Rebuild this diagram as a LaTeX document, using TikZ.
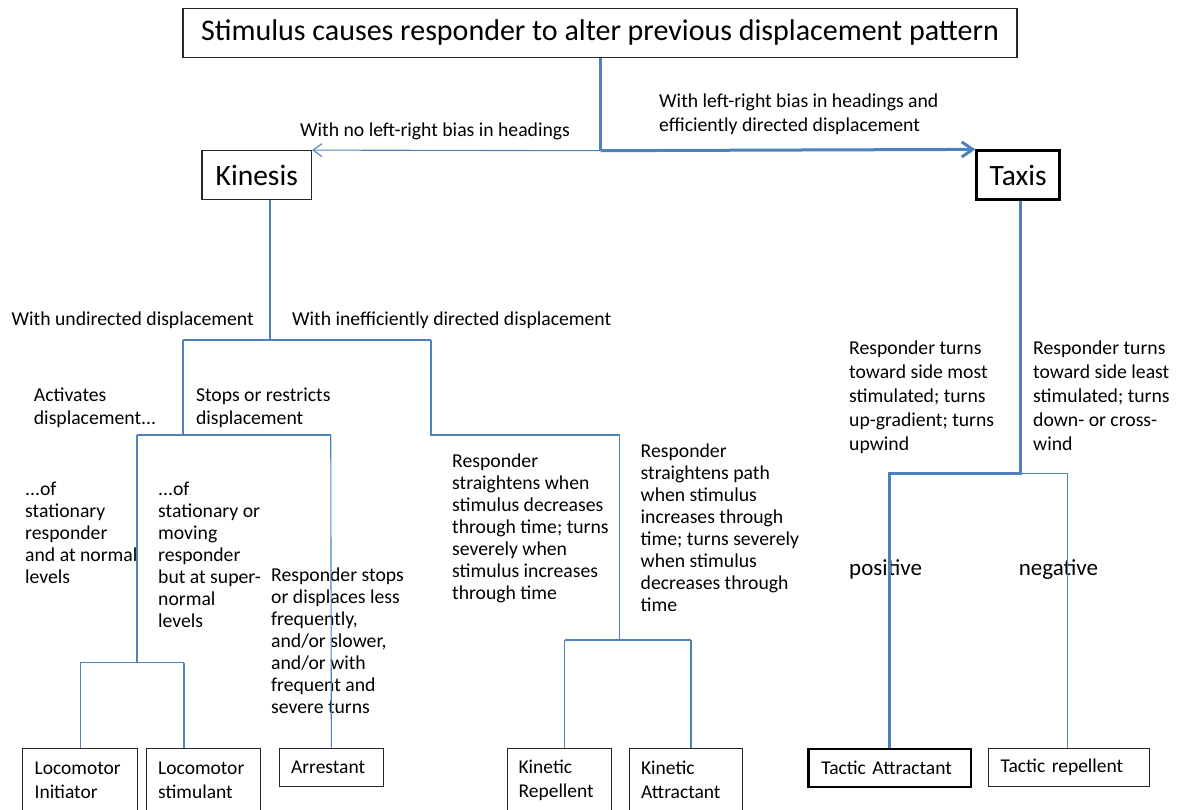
\documentclass[tikz,border=0pt]{standalone}
\usepackage{fontspec}
\setmainfont{Carlito}
\usetikzlibrary{arrows.meta}
\definecolor{linkblue}{RGB}{79,129,189}

\begin{document}
\begin{tikzpicture}[x=1pt,y=-1pt,
    thin link/.style={linkblue,line width=1.1pt},
    thick link/.style={linkblue,line width=3pt},
    box/.style={draw=black!85,line width=1.2pt,inner sep=0pt},
    bold box/.style={draw=black,line width=2.6pt,inner sep=0pt},
    leaf/.style={anchor=north west,align=left,inner xsep=12pt,
      font=\fontsize{19.5}{24}\selectfont},
    note/.style={anchor=north west,inner sep=0pt,align=left,
      font=\fontsize{19.7}{22}\selectfont}]
  \useasboundingbox (0,0) rectangle (1184,810);

  % boxes
  \node [box,minimum width=834pt,minimum height=49pt,
    font=\fontsize{30}{36}\selectfont] (stim) at (600,32.8)
    {Stimulus causes responder to alter previous displacement pattern};
  \node [box,minimum width=109.5pt,minimum height=48.6pt,
    font=\fontsize{29.5}{35}\selectfont] (kin) at (256.75,175) {Kinesis};
  \node [bold box,minimum width=83pt,minimum height=48.6pt,
    font=\fontsize{29.5}{35}\selectfont] (tax) at (1018.2,175) {Taxis};

  \node [leaf,box,inner xsep=12pt,text width=91pt,minimum height=64pt]
    (loc1) at (22,747.5) {Locomotor\\Initiator};
  \node [leaf,box,inner xsep=12pt,text width=90.2pt,minimum height=64pt]
    (loc2) at (145.6,747.5) {Locomotor\\stimulant};
  \node [leaf,box,inner xsep=12pt,text width=80.5pt,minimum height=38.2pt]
    (arr) at (278.5,747.5) {Arrestant};
  \node [leaf,box,inner xsep=11.5pt,text width=81.1pt,minimum height=64pt]
    (kr) at (506.5,747.5) {Kinetic\\Repellent};
  \node [leaf,box,inner xsep=11.5pt,text width=90pt,minimum height=64pt]
    (ka) at (629,747.5) {Kinetic\\Attractant};
  \node [leaf,bold box,inner xsep=13pt,text width=136.5pt,minimum height=38.2pt]
    (ta) at (807,747.5) {Tactic Attractant};
  \node [leaf,box,inner xsep=12pt,text width=136.5pt,minimum height=38.2pt]
    (tr) at (988,747.5) {Tactic repellent};

  % texts
  \node [note,anchor=base west] (nobias) at (300,136.2)
    {With no left-right bias in headings};
  \node [note,font=\fontsize{19.7}{24}\selectfont] (bias) at (659,93.7)
    {With left-right bias in headings and\\efficiently directed displacement};
  \node [note,anchor=base west] (undirtext) at (11.5,325.5)
    {With undirected displacement};
  \node [note,anchor=base west] (inefftext) at (292,325.5)
    {With inefficiently directed displacement};
  \node [note,font=\fontsize{19.7}{23}\selectfont] (acttext) at (33.7,387.7)
    {Activates\\displacement...};
  \node [note,font=\fontsize{19.7}{23}\selectfont] (stoptext) at (195.8,387.7)
    {Stops or restricts\\displacement};
  \node [note] (ofstat) at (25,482)
    {...of\\stationary\\responder\\and at normal\\levels};
  \node [note] (ofmove) at (158,482)
    {...of\\stationary or\\moving\\responder\\but at super-\\normal\\levels};
  \node [note] (stopsless) at (271,567.7)
    {Responder stops\\or displaces less\\frequently,\\and/or slower,\\
     and/or with\\frequent and\\severe turns};
  \node [note] (strwhen) at (452,453.7)
    {Responder\\straightens when\\stimulus decreases\\through time; turns\\
     severely when\\stimulus increases\\through time};
  \node [note] (strpath) at (640.5,444)
    {Responder\\straightens path\\when stimulus\\increases through\\
     time; turns severely\\when stimulus\\decreases through\\time};
  \node [note,font=\fontsize{19.7}{24}\selectfont] (most) at (849,341)
    {Responder turns\\toward side most\\stimulated; turns\\up-gradient; turns\\upwind};
  \node [note,font=\fontsize{19.7}{24}\selectfont] (least) at (1033,341)
    {Responder turns\\toward side least\\stimulated; turns\\down- or cross-\\wind};
  \node [note,anchor=base west,font=\fontsize{23}{28}\selectfont] (postext)
    at (849,575.4) {positive};
  \node [note,anchor=base west,font=\fontsize{23}{28}\selectfont] (negtext)
    at (1018.7,575.4) {negative};

  % junctions
  \coordinate (fork) at (600.7,150.7);
  \coordinate (kfork) at (270,340);
  \coordinate (und) at (183,340);
  \coordinate (ineff) at (431,340);
  \coordinate (act) at (137,435);
  \coordinate (stop) at (330.75,435);
  \coordinate (locfork) at (137,662.7);
  \coordinate (locb) at (184,662.7);
  \coordinate (kinfork) at (619.5,435);
  \coordinate (krtop) at (564.5,640);
  \coordinate (katop) at (691,640);
  \coordinate (tfork) at (1020.6,473.5);
  \coordinate (posi) at (889.6,473.5);
  \coordinate (nega) at (1067.7,473.5);

  % connectors
  \draw [thick link] (stim.south -| fork) -- (fork);
  \draw [thin link,-{Straight Barb[length=9pt,width=13pt]}] (fork) -- (kin.north east);
  \draw [thick link,-{Straight Barb[length=11pt,width=15pt]}] (fork) -- (tax.north west);

  \draw [thin link] (kin.south -| kfork) -- (kfork);
  \draw [thin link] (und) -- (ineff);
  \draw [thin link] (und) -- (und |- act);
  \draw [thin link] (act) -- (stop);
  \draw [thin link] (act) -- (locfork);
  \draw [thin link] (loc1.north |- locfork) -- (locb);
  \draw [thin link] (loc1.north |- locfork) -- (loc1.north);
  \draw [thin link] (locb) -- (locb |- loc2.north);
  \draw [thin link] (stop) -- (arr.north);
  \draw [thin link] (ineff) -- (ineff |- kinfork) -- (kinfork) -- (kinfork |- krtop);
  \draw [thin link] (krtop) -- (katop);
  \draw [thin link] (krtop) -- (krtop |- kr.north);
  \draw [thin link] (katop) -- (katop |- ka.north);

  \draw [thick link] (tax.south -| tfork) -- (tfork) -- (posi) -- (posi |- ta.north);
  \draw [thin link] (tfork) -- (nega) -- (nega |- tr.north);
\end{tikzpicture}
\end{document}
